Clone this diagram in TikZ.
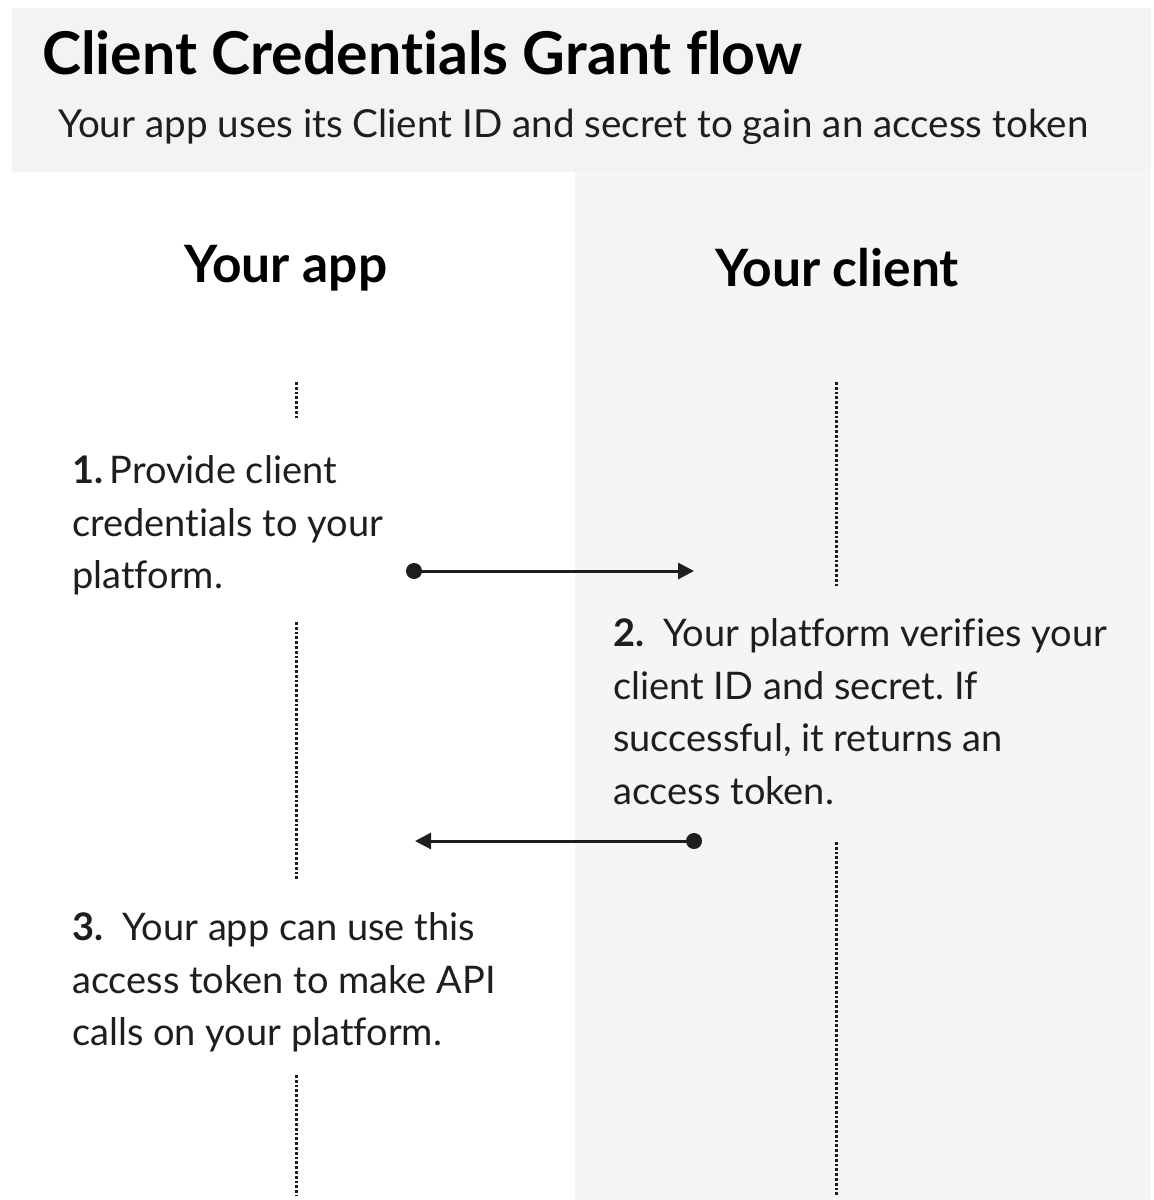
\documentclass[tikz,border=0pt]{standalone}
\usepackage{fontspec}
\setmainfont{Lato}[Ligatures={NoCommon}]
\usetikzlibrary{arrows.meta}
\definecolor{hdrgray}{HTML}{F3F3F3}
\definecolor{panelgray}{HTML}{F5F5F5}
\definecolor{ink}{HTML}{1E1E1E}
\frenchspacing
\tikzset{
  lifeline/.style={draw=ink, line width=3pt, dash pattern=on 2.7pt off 2.1pt},
  msg/.style={draw=ink, line width=3pt, -{Triangle[length=16pt,width=16pt]}},
  startdot/.style={circle, fill=ink, inner sep=0pt, minimum size=16pt},
  title/.style={anchor=base west, inner sep=0pt, font=\fontsize{59}{64}\selectfont\bfseries, text=black},
  subtitle/.style={anchor=base west, inner sep=0pt, font=\fontsize{38.6}{44}\selectfont, text=ink},
  lane/.style={anchor=base, inner sep=0pt, font=\fontsize{51.5}{58}\selectfont\bfseries, text=black},
  steptext/.style={anchor=north west, inner sep=0pt, align=left, font=\fontsize{38}{52.5}\selectfont\frenchspacing, text=ink},
}
\begin{document}
\begin{tikzpicture}[x=1pt,y=-1pt]
\useasboundingbox (0,0) rectangle (1154,1200);
\fill[white] (0,0) rectangle (1154,1200);
\fill[hdrgray] (12,8) rectangle (1151,172);
\fill[panelgray] (575,172) rectangle (1151,1200);

\node[title] (title) at (42,74) {Client Credentials Grant flow};
\node[subtitle] (sub) at (58,137) {Your app uses its Client ID and secret to gain an access token};

\node[lane] (app) at (286,282) {Your app};
\node[lane] (client) at (837,286) {Your client};

% lifelines
\coordinate (a1) at (296,382); \coordinate (a2) at (296,418);
\coordinate (a3) at (296,622); \coordinate (a4) at (296,880);
\coordinate (a5) at (296,1075); \coordinate (a6) at (296,1196);
\coordinate (c1) at (836,382); \coordinate (c2) at (836,586);
\coordinate (c3) at (836,842); \coordinate (c4) at (836,1196);
\draw[lifeline] (a1) -- (a2);
\draw[lifeline] (a3) -- (a4);
\draw[lifeline] (a5) -- (a6);
\draw[lifeline] (c1) -- (c2);
\draw[lifeline] (c3) -- (c4);

% steps
\node[steptext] (s1) at (72,455.5) {\textbf{1.}\,Provide client\\credentials to your\\platform.};
\node[steptext] (s2) at (613,618.5) {\textbf{2.}\hspace{0.5em}Your platform verifies your\\client ID and secret. If\\successful, it returns an\\access token.};
\node[steptext] (s3) at (72,912.5) {\textbf{3.}\hspace{0.5em}Your app can use this\\access token to make API\\calls on your platform.};

% messages
\node[startdot] (d1) at (414,571) {};
\coordinate (t1) at (694,571);
\draw[msg] (d1.center) -- (t1);
\node[startdot] (d2) at (694,841) {};
\coordinate (t2) at (415,841);
\draw[msg] (d2.center) -- (t2);
\end{tikzpicture}
\end{document}
